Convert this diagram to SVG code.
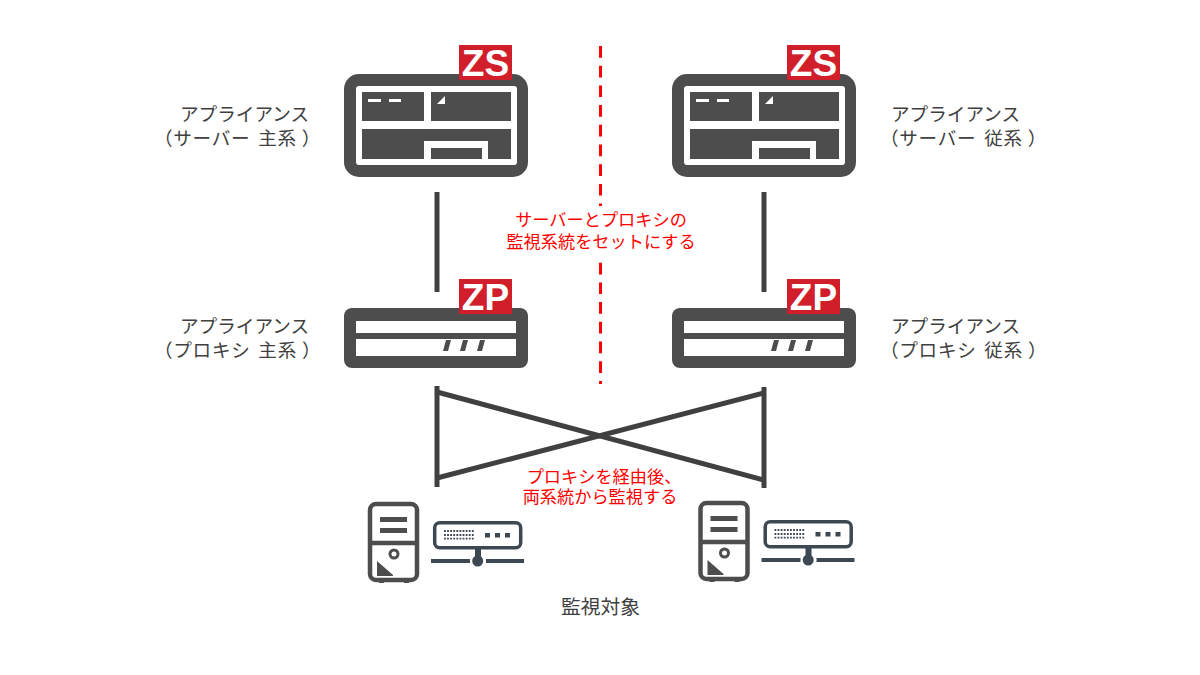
<svg xmlns="http://www.w3.org/2000/svg" width="1200" height="675" viewBox="0 0 1200 675">
<style>
.lbl{font-family:"Noto Sans CJK JP","Noto Sans",sans-serif;font-size:18.600px;fill:#404040}
.l2{letter-spacing:.7px;word-spacing:3px}
.red{font-family:"Noto Sans CJK JP","Noto Sans",sans-serif;font-size:17.200px;fill:#ff0000;text-anchor:middle}
.bt{font-family:"Liberation Sans",Arial,sans-serif;font-weight:700;font-size:37px;fill:#fff;text-anchor:middle}
.bd{fill:#d01f2a}
.dk{fill:#4d4d4d}
.wh{fill:#fff}
.ln{stroke:#404040;stroke-width:5;fill:none}
.tw{fill:none;stroke:#4d4d4d;stroke-width:4.500}
.nt{fill:none;stroke:#3d4853;stroke-width:3.500}
.nf{fill:#3d4853}
</style>
<defs>
<g id="srv">
<rect class="dk" x="344" y="74" width="184" height="103" rx="15"/>
<rect class="wh" x="356" y="86" width="161" height="79" rx="3"/>
<rect class="dk" x="362" y="92" width="62" height="29"/>
<rect class="dk" x="431" y="92" width="80" height="29"/>
<path class="dk" d="M362 129H511V159H488V141H424V159H362Z"/>
<rect class="dk" x="431" y="148" width="51" height="11"/>
<rect class="wh" x="368" y="99" width="13" height="3"/>
<rect class="wh" x="389" y="99" width="12" height="3"/>
<path class="wh" d="M445 96V104H437Z"/>
</g>
<g id="prx">
<rect class="dk" x="344" y="308" width="184" height="60" rx="8"/>
<rect class="wh" x="356" y="321" width="160" height="12"/>
<rect class="wh" x="356" y="339" width="160" height="17"/>
<path class="dk" d="M446 340H451L448 351H443ZM463 340H468L465 351H460ZM480 340H485L482 351H477Z"/>
</g>
<g id="tower">
<rect class="tw" x="370" y="504" width="47" height="76" rx="6"/>
<path class="tw" d="M370 543H417"/>
<rect class="dk" x="380" y="517" width="27" height="5"/>
<rect class="dk" x="380" y="528" width="27" height="5"/>
<circle cx="394" cy="554" r="4" fill="none" stroke="#4d4d4d" stroke-width="3"/>
<path class="dk" d="M377 561L393 575V576H377Z"/>
<rect class="dk" x="379" y="580" width="5" height="3"/>
<rect class="dk" x="404" y="580" width="5" height="3"/>
</g>
<g id="net">
<rect class="nt" x="434.700" y="522.700" width="86" height="25" rx="5"/>
<path d="M444 531H474M444 535H474M444 538.700H474" stroke="#3d4853" stroke-width="1.800" stroke-dasharray="1.800 1.300" fill="none"/>
<rect class="nf" x="485" y="533" width="5" height="4.500"/>
<rect class="nf" x="495" y="533" width="5" height="4.500"/>
<rect class="nf" x="505" y="533" width="5" height="4.500"/>
<rect class="nf" x="475" y="549" width="6" height="8"/>
<circle class="nf" cx="477.700" cy="561" r="5.500"/>
<rect class="nf" x="431" y="559" width="39" height="4"/>
<rect class="nf" x="486" y="559" width="38" height="4"/>
</g>
</defs>

<g id="connectors">
<line x1="600.500" y1="46" x2="600.500" y2="384" stroke="#ff0000" stroke-width="3" stroke-dasharray="11.700 8"/>
<line class="ln" x1="437" y1="192" x2="437" y2="292"/>
<line class="ln" x1="764" y1="192" x2="764" y2="292"/>
<line class="ln" x1="437" y1="386" x2="437" y2="487"/>
<line class="ln" x1="764" y1="387" x2="764" y2="488"/>
<line class="ln" x1="437" y1="392" x2="764" y2="480"/>
<line class="ln" x1="764" y1="393" x2="437" y2="478"/>
</g>

<g id="note-top">
<rect class="wh" x="505" y="206" width="192" height="54"/>
<text class="red"><tspan x="601" y="226">サーバーとプロキシの</tspan><tspan x="601" y="248">監視系統をセットにする</tspan></text>
</g>
<g id="note-bottom">
<text class="red"><tspan x="604" y="483">プロキシを経由後、</tspan><tspan x="600" y="503">両系統から監視する</tspan></text>
</g>

<g id="server-primary">
<use href="#srv"/>
<rect class="bd" x="459" y="45" width="53" height="35"/>
<text class="bt" x="485.500" y="76">ZS</text>
<text class="lbl" x="180" y="121">アプライアンス</text>
<text class="lbl l2" x="154" y="145">（サーバー 主系<tspan dx="5">）</tspan></text>
</g>
<g id="server-secondary">
<use href="#srv" x="328"/>
<rect class="bd" x="787" y="45" width="53" height="35"/>
<text class="bt" x="813.500" y="76">ZS</text>
<text class="lbl" x="891" y="121">アプライアンス</text>
<text class="lbl l2" x="880" y="145">（サーバー 従系<tspan dx="5">）</tspan></text>
</g>
<g id="proxy-primary">
<use href="#prx"/>
<rect class="bd" x="459" y="279" width="53" height="35"/>
<text class="bt" x="485.500" y="310">ZP</text>
<text class="lbl" x="180" y="333">アプライアンス</text>
<text class="lbl l2" x="154" y="357">（プロキシ 主系<tspan dx="5">）</tspan></text>
</g>
<g id="proxy-secondary">
<use href="#prx" x="328"/>
<rect class="bd" x="787" y="279" width="53" height="35"/>
<text class="bt" x="813.500" y="310">ZP</text>
<text class="lbl" x="891" y="333">アプライアンス</text>
<text class="lbl l2" x="880" y="357">（プロキシ 従系<tspan dx="5">）</tspan></text>
</g>
<g id="target-left">
<use href="#tower"/>
<use href="#net"/>
</g>
<g id="target-right">
<use href="#tower" x="330.500" y="-1"/>
<use href="#net" x="330.500" y="-1"/>
</g>
<text id="target-label" class="lbl" x="600.500" y="614" text-anchor="middle" style="font-size:19.800px">監視対象</text>
</svg>
